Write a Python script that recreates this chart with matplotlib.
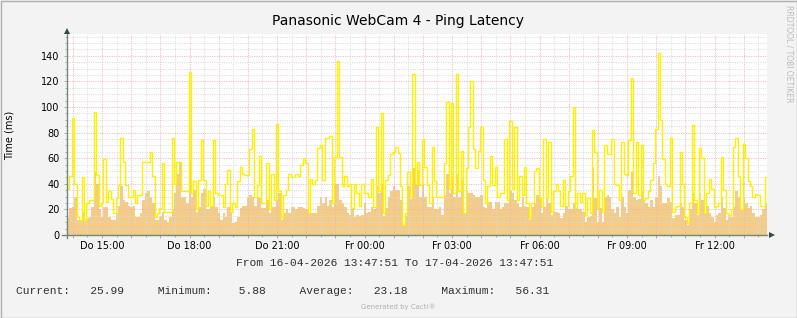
import numpy as np
import matplotlib.pyplot as plt
from matplotlib.ticker import MultipleLocator, FuncFormatter
from matplotlib.patches import Rectangle

# 16-04-2026 13:47:51 -> 17-04-2026 13:47:51, hours since midnight of day one
start_h = 13 + 47 / 60 + 51 / 3600
span_h = 24.0

# 5 minute samples, max ping (yellow line)
max_ping = [
    36, 46, 91, 40, 14, 12, 45, 12, 25, 27, 27, 96, 47, 23, 25, 59, 26, 34, 28, 17,
    29, 39, 76, 57, 39, 30, 30, 35, 25, 31, 31, 57, 57, 57, 65, 46, 14, 17, 21, 56,
    18, 18, 18, 76, 40, 57, 57, 34, 34, 34, 127, 33, 42, 20, 43, 74, 43, 23, 34, 23,
    74, 33, 31, 31, 22, 40, 51, 18, 25, 22, 42, 53, 48, 47, 47, 67, 83, 30, 39, 62,
    25, 25, 56, 20, 48, 27, 87, 34, 13, 31, 35, 48, 45, 45, 48, 46, 55, 60, 56, 17,
    44, 40, 43, 68, 70, 43, 76, 76, 77, 25, 61, 136, 61, 38, 46, 38, 40, 21, 40, 33,
    23, 40, 33, 33, 30, 44, 22, 84, 34, 95, 17, 43, 47, 63, 65, 69, 64, 38, 8, 17,
    49, 30, 126, 40, 57, 39, 75, 53, 39, 25, 69, 42, 30, 30, 30, 56, 104, 36, 103, 33,
    126, 34, 66, 17, 52, 84, 120, 67, 52, 66, 84, 43, 25, 38, 62, 39, 53, 30, 33, 33,
    75, 27, 89, 36, 84, 27, 46, 31, 53, 25, 13, 25, 50, 52, 29,
    22, 75, 29, 73, 18, 34, 40, 34, 23, 43, 23, 34, 46, 100, 21, 33, 26, 33, 16, 29,
    17, 82, 65, 21, 35, 18, 70, 63, 63, 75, 40, 39, 27, 73, 48, 47, 74, 123, 33, 73,
    31, 70, 27, 29, 34, 43, 56, 83, 142, 90, 59, 40, 38, 76, 18, 22, 23, 65, 40, 14,
    9, 25, 86, 27, 17, 68, 60, 17, 33, 44, 36, 22, 23, 25, 61, 35, 17, 16, 20, 69,
    76, 46, 20, 71, 60, 42, 38, 30, 32, 31, 23, 23, 45,
]

# 5 minute samples, average ping (orange area)
avg_ping = [
    13, 21, 22, 30, 12, 12, 18, 11, 13, 14, 22, 49, 40, 20, 14, 22, 22, 14, 12, 12,
    17, 23, 38, 27, 26, 23, 22, 23, 14, 14, 17, 27, 33, 34, 30, 25, 12, 12, 14, 18,
    12, 10, 14, 20, 33, 48, 56, 30, 30, 25, 56, 30, 35, 18, 22, 33, 36, 20, 20, 22,
    30, 22, 17, 12, 17, 14, 22, 17, 9, 10, 14, 21, 23, 23, 30, 31, 30, 23, 30, 29,
    21, 21, 27, 17, 22, 22, 27, 33, 12, 17, 20, 17, 22, 22, 20, 22, 22, 21, 20, 17,
    17, 17, 17, 23, 30, 25, 30, 23, 27, 22, 40, 40, 27, 25, 22, 17, 16, 20, 14, 16,
    15, 16, 25, 17, 18, 22, 20, 38, 33, 40, 15, 21, 30, 34, 38, 35, 35, 27, 7, 15,
    38, 28, 52, 40, 51, 30, 40, 30, 22, 22, 30, 20, 20, 22, 16, 31, 48, 33, 43, 30,
    48, 30, 43, 17, 35, 33, 33, 31, 30, 30, 31, 22, 21, 26, 26, 20, 26, 26, 20, 22,
    25, 25, 34, 33, 27, 25, 22, 30, 23, 22, 12, 22, 25, 31, 29,
    17, 22, 29, 25, 16, 18, 18, 17, 13, 17, 23, 20, 20, 25, 20, 20, 20, 18, 10, 14,
    15, 53, 29, 10, 21, 10, 30, 31, 30, 20, 17, 22, 14, 30, 22, 17, 35, 49, 30, 27,
    28, 34, 27, 25, 22, 27, 22, 30, 46, 38, 25, 25, 29, 26, 13, 16, 16, 25, 22, 12,
    8, 20, 33, 25, 16, 33, 27, 17, 23, 17, 14, 10, 16, 17, 30, 21, 12, 14, 14, 22,
    34, 30, 20, 30, 25, 21, 23, 17, 14, 14, 16, 20, 25,
]

x_tick_hours = [15, 18, 21, 24, 27, 30, 33, 36]
x_tick_labels = ['Do 15:00', 'Do 18:00', 'Do 21:00', 'Fr 00:00',
                 'Fr 03:00', 'Fr 06:00', 'Fr 09:00', 'Fr 12:00']

title = 'Panasonic WebCam 4 - Ping Latency'
period = 'From 16-04-2026 13:47:51 To 17-04-2026 13:47:51'
stat_names = ['Current:', 'Minimum:', 'Average:', 'Maximum:']
stat_values = [25.99, 5.88, 23.18, 56.31]

area_col = '#F2CC88'
line_col = '#FFF000'
axis_col = '#6F8A7D'
arrow_col = '#2F4F3F'
W, H = 797, 318

fig = plt.figure(figsize=(W / 100, H / 100), dpi=100, facecolor='#F3F3F3')
ax = fig.add_axes([67 / W, 1 - 235 / H, 700 / W, 201 / H])
ax.set_facecolor('#FEFEFE')

edges = start_h + np.arange(len(avg_ping) + 1) * span_h / len(avg_ping)
ax.stairs(avg_ping, edges, fill=True, color=area_col, lw=0, zorder=1)
ax.stairs(max_ping, edges, baseline=None, color=line_col, lw=1.0, zorder=3)

ax.set_xlim(start_h, start_h + span_h)
ax.set_ylim(0, 157)

lab = dict(zip(x_tick_hours, x_tick_labels))
ax.xaxis.set_major_locator(MultipleLocator(1))
ax.xaxis.set_minor_locator(MultipleLocator(0.5))
ax.xaxis.set_major_formatter(FuncFormatter(lambda v, p: lab.get(int(round(v)), '')))
ax.yaxis.set_major_locator(MultipleLocator(20))
ax.yaxis.set_minor_locator(MultipleLocator(5))

ax.set_axisbelow(False)
ax.grid(which='major', color='#EDB4B4', lw=0.7, ls=(0, (1, 1.4)))
ax.grid(which='minor', color='#D9D9D9', lw=0.7, ls=(0, (1, 1.4)))
ax.tick_params(which='both', direction='out', color='#AAAAAA', width=0.7,
               labelsize=7, labelcolor='#000000')
ax.tick_params(which='major', length=2)
ax.tick_params(which='minor', length=1.5)
ax.tick_params(axis='x', pad=2)
ax.tick_params(axis='y', pad=3.5)

for s in ax.spines.values():
    s.set_visible(False)
ax.plot([0, 0], [-0.015, 1.0], transform=ax.transAxes, color=axis_col,
        lw=1, clip_on=False, zorder=5)
ax.plot([-0.007, 1.0], [0, 0], transform=ax.transAxes, color=axis_col,
        lw=1, clip_on=False, zorder=5)
ax.plot([0], [1.017], marker='^', ms=4.5, color=arrow_col, mew=0,
        transform=ax.transAxes, clip_on=False, zorder=6)
ax.plot([1.0065], [0], marker='>', ms=4.5, color=arrow_col, mew=0,
        transform=ax.transAxes, clip_on=False, zorder=6)

fig.text(398 / W, 1 - 21 / H, title, ha='center', va='center', fontsize=10)
fig.text(10 / W, 1 - 135 / H, 'Time (ms)', rotation=90, ha='center',
         va='center', fontsize=7)
fig.text(395 / W, 1 - 263 / H, period, ha='center', va='center',
         family='Liberation Mono', fontsize=8.1, color='#303030')
stats = '     '.join(f'{n}{v:8.2f}' for n, v in zip(stat_names, stat_values))
fig.text(16 / W, 1 - 291 / H, stats, ha='left', va='center',
         family='Liberation Mono', fontsize=8.1, color='#303030')
fig.text(398 / W, 1 - 307 / H, 'Generated by Cacti\u00ae', ha='center',
         va='center', fontsize=5, color='#B0B0B0')
fig.text(789 / W, 1 - 5 / H, 'RRDTOOL / TOBI OETIKER', rotation=270,
         ha='center', va='top', fontsize=5.5, color='#BBBBBB')

fig.add_artist(Rectangle((0.5 / W, 0.5 / H), 1 - 1 / W, 1 - 1 / H,
                         transform=fig.transFigure, fill=False,
                         edgecolor='#AFAFAF', lw=1))

fig.savefig('out.png', dpi=100, facecolor=fig.get_facecolor())
